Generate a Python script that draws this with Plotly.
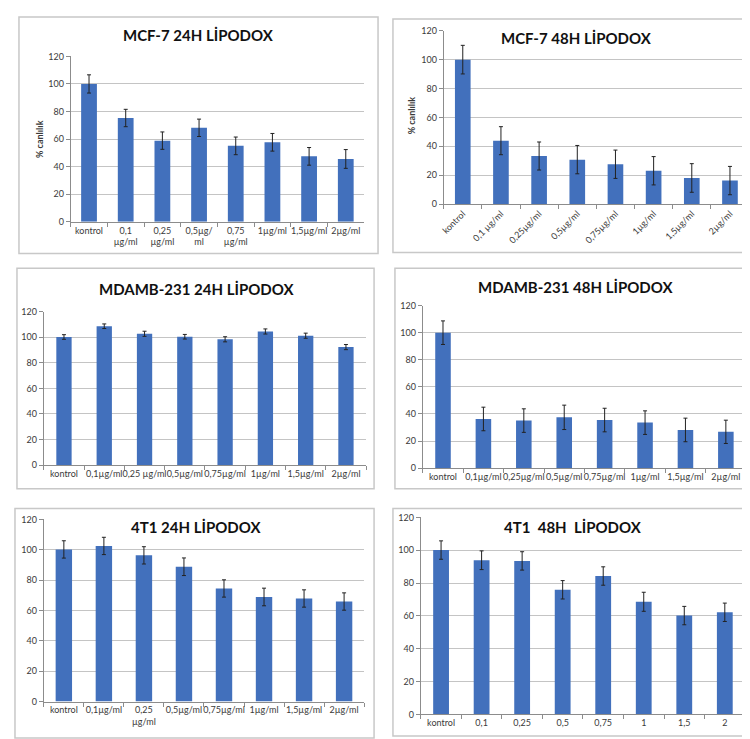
import plotly.graph_objects as go

W, H = 750, 739

# ---------------- data ----------------
titles = ["MCF-7 24H LİPODOX", "MCF-7 48H LİPODOX",
          "MDAMB-231 24H LİPODOX", "MDAMB-231 48H LİPODOX",
          "4T1 24H LİPODOX", "4T1\u00a0 48H\u00a0 LİPODOX"]

cats_mcf7_24 = ["kontrol", "0,1<br>µg/ml", "0,25<br>µg/ml", "0,5µg/<br>ml", "0,75<br>µg/ml", "1µg/ml", "1,5µg/ml", "2µg/ml"]
cats_mcf7_48 = ["kontrol", "0,1 µg/ml", "0,25µg/ml", "0,5µg/ml", "0,75µg/ml", "1µg/ml", "1,5µg/ml", "2µg/ml"]
cats_mda_24 = ["kontrol", "0,1µg/ml", "0,25 µg/ml", "0,5µg/ml", "0,75µg/ml", "1µg/ml", "1,5µg/ml", "2µg/ml"]
cats_mda_48 = ["kontrol", "0,1µg/ml", "0,25µg/ml", "0,5µg/ml", "0,75µg/ml", "1µg/ml", "1,5µg/ml", "2µg/ml"]
cats_4t1_24 = ["kontrol", "0,1µg/ml", "0,25<br>µg/ml", "0,5µg/ml", "0,75µg/ml", "1µg/ml", "1,5µg/ml", "2µg/ml"]
cats_4t1_48 = ["kontrol", "0,1", "0,25", "0,5", "0,75", "1", "1,5", "2"]

vals_mcf7_24 = [100, 75.3, 58.9, 68.2, 55.1, 57.7, 47.5, 45.6]
err_mcf7_24 = [6.6, 6.3, 6.3, 6.3, 6.4, 6.4, 6.4, 6.8]
vals_mcf7_48 = [100, 43.9, 33.3, 30.8, 27.6, 23.1, 18.1, 16.3]
err_mcf7_48 = [9.9, 9.7, 9.7, 9.8, 9.8, 9.8, 9.9, 9.8]
vals_mda_24 = [100.1, 108.5, 102.6, 100.3, 98.3, 104.4, 101.1, 92.2]
err_mda_24 = [1.8, 1.8, 2.0, 1.8, 2.0, 2.0, 2.0, 2.0]
vals_mda_48 = [100, 36.3, 35.1, 37.5, 35.5, 33.6, 28.2, 26.8]
err_mda_48 = [8.7, 8.7, 8.7, 9.0, 8.7, 8.7, 8.7, 8.6]
vals_4t1_24 = [100.2, 102.5, 96.3, 88.8, 74.5, 68.9, 67.9, 65.9]
err_4t1_24 = [5.7, 5.7, 5.7, 5.8, 5.7, 5.8, 5.7, 5.7]
vals_4t1_48 = [100.1, 93.9, 93.5, 75.9, 84.3, 68.6, 60.2, 62.2]
err_4t1_48 = [5.6, 5.7, 5.6, 5.6, 5.6, 5.8, 5.6, 5.6]

y_ticks = [0, 20, 40, 60, 80, 100, 120]
y_title = "% canlılık"

# ---------------- layout geometry (pixels) ----------------
panels = [
    dict(cats=cats_mcf7_24, vals=vals_mcf7_24, err=err_mcf7_24, plot=(59, 354, 43, 211), box=(7, 368, 3, 243),
         title_xy=(187, 21), ytitle_xy=(27, 127), angle=0, bw=0.43),
    dict(cats=cats_mcf7_48, vals=vals_mcf7_48, err=err_mcf7_48, plot=(434, 741, 17, 193), box=(383, 747, 5, 242),
         title_xy=(568, 24), ytitle_xy=(402, 103), angle=-45, bw=0.41),
    dict(cats=cats_mda_24, vals=vals_mda_24, err=err_mda_24, plot=(32, 356, 302, 458), box=(5, 364, 258, 482),
         title_xy=(185, 279), ytitle_xy=None, angle=0, bw=0.38),
    dict(cats=cats_mda_48, vals=vals_mda_48, err=err_mda_48, plot=(413, 738, 296, 461), box=(385, 748, 258, 482),
         title_xy=(567, 277), ytitle_xy=None, angle=0, bw=0.385),
    dict(cats=cats_4t1_24, vals=vals_4t1_24, err=err_4t1_24, plot=(32, 354, 513, 698), box=(3, 364, 502, 735),
         title_xy=(185, 521), ytitle_xy=None, angle=0, bw=0.41),
    dict(cats=cats_4t1_48, vals=vals_4t1_48, err=err_4t1_48, plot=(411, 737, 511, 711), box=(383, 745, 502, 733),
         title_xy=(564, 521), ytitle_xy=None, angle=0, bw=0.39),
]

FONT = "Lato"
BAR = "#4270BC"
GRID = "#C4C4C4"
AXIS = "#8C8C8C"
TXT = "#3A3A3A"

def px(x):
    return x / W

def py(y):
    return 1 - y / H

fig = go.Figure()
layout = dict(width=W, height=H, margin=dict(l=0, r=0, t=0, b=0),
              paper_bgcolor="white", plot_bgcolor="white", showlegend=False,
              font=dict(family=FONT, color=TXT), shapes=[], annotations=[])

for i, p in enumerate(panels):
    n = i + 1
    xa = "x" if n == 1 else f"x{n}"
    ya = "y" if n == 1 else f"y{n}"
    fig.add_trace(go.Bar(
        x=p["cats"], y=p["vals"], xaxis=xa, yaxis=ya, width=p["bw"],
        marker=dict(color=BAR, line=dict(width=0)),
        error_y=dict(type="data", array=p["err"], visible=True, color="#222222", thickness=1, width=2),
    ))
    x0, x1, y0, y1 = p["plot"]
    xkey = "xaxis" if n == 1 else f"xaxis{n}"
    ykey = "yaxis" if n == 1 else f"yaxis{n}"
    layout[xkey] = dict(domain=[px(x0), px(x1)], anchor=ya, type="category",
                        showline=True, linecolor=AXIS, linewidth=1, showgrid=False,
                        ticks="outside", tickson="boundaries", ticklen=4, tickcolor=AXIS,
                        tickangle=p["angle"], tickfont=dict(size=9, color=TXT, family=FONT),
                        fixedrange=True)
    layout[ykey] = dict(domain=[py(y1), py(y0)], anchor=xa, range=[0, 120],
                        tickvals=y_ticks, showgrid=True, gridcolor=GRID, gridwidth=1,
                        showline=True, linecolor=AXIS, linewidth=1, zeroline=False,
                        ticks="outside", ticklen=4, tickcolor=AXIS,
                        tickfont=dict(size=9, color=TXT, family=FONT), fixedrange=True)
    bx0, bx1, by0, by1 = p["box"]
    layout["shapes"].append(dict(type="rect", xref="paper", yref="paper",
                                 x0=px(bx0), x1=px(bx1), y0=py(by1), y1=py(by0),
                                 line=dict(color="#C8C8C8", width=1.5), fillcolor="rgba(0,0,0,0)", layer="below"))
    tx, ty = p["title_xy"]
    layout["annotations"].append(dict(text="<b>" + titles[i] + "</b>", xref="paper", yref="paper",
                                      x=px(tx), y=py(ty), xanchor="center", yanchor="middle", showarrow=False,
                                      font=dict(size=15, color="#111111", family=FONT)))
    if p["ytitle_xy"]:
        ax_, ay_ = p["ytitle_xy"]
        layout["annotations"].append(dict(text="<b>" + y_title + "</b>", xref="paper", yref="paper",
                                          x=px(ax_), y=py(ay_), xanchor="center", yanchor="middle",
                                          showarrow=False, textangle=-90,
                                          font=dict(size=9, color=TXT, family=FONT)))

fig.update_layout(**layout)
fig.write_html("out.html")
